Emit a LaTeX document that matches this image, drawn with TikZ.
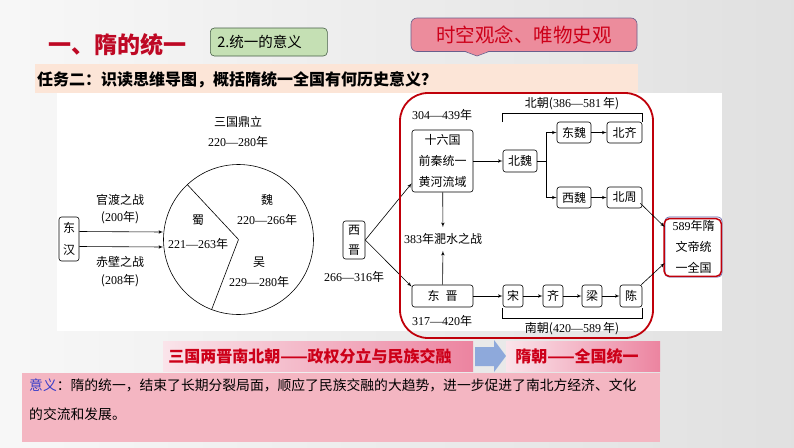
\documentclass[tikz,border=0pt]{standalone}
\usepackage{fontspec}
\setmainfont{Liberation Serif}
\newfontfamily\cjk{Noto Sans CJK SC}
\usetikzlibrary{arrows}
\usetikzlibrary{positioning}
\usetikzlibrary{calc}
\definecolor{titlered}{RGB}{190,8,36}
\definecolor{topicgreen}{RGB}{197,224,180}
\definecolor{topicedge}{RGB}{70,95,70}
\definecolor{calloutpink}{RGB}{236,140,156}
\definecolor{calloutedge}{RGB}{105,95,140}
\definecolor{calloutred}{RGB}{205,0,25}
\definecolor{taskpeach}{RGB}{252,229,215}
\definecolor{framered}{RGB}{192,0,10}
\definecolor{bannerpink}{RGB}{236,132,160}
\definecolor{bannerlight}{RGB}{250,228,234}
\definecolor{arrowblue}{RGB}{142,169,219}
\definecolor{meaningpink}{RGB}{244,182,194}
\definecolor{meaningblue}{RGB}{55,60,200}
\tikzstyle{line} = [draw, -latex']
\newcommand{\yr}[1]{{\rmfamily #1}年}

\begin{document}
\begin{tikzpicture}[x=1pt,y=-1pt,
        box/.style={draw, rounded corners=2.5pt, inner sep=0pt, line width=0.6pt,
            font=\cjk\fontsize{12}{21}\selectfont, align=center},
        lab/.style={font=\cjk\fontsize{12}{14}\selectfont, inner sep=1pt},
        conn/.style={line, line width=0.6pt},
        banner/.style={font=\cjk\bfseries\fontsize{16}{16}\selectfont, text=calloutred}]
    \useasboundingbox (0,0) rectangle (794,447);
    %% Background
    \shade[left color=white!97!black, right color=white!88!black] (0,0) rectangle (794,447);
    \fill[white] (57,93) rectangle (722,331);
    %% Header
    \node [font=\cjk\bfseries\fontsize{23}{23}\selectfont, text=titlered] (title) at (117,45) {一、隋的统一};
    \node [draw=topicedge, fill=topicgreen, rounded corners=4pt, line width=0.6pt, anchor=west,
        minimum height=28, text width=103, inner xsep=7, align=left,
        font=\cjk\fontsize{14.5}{15}\selectfont] (topic) at (210,42) {2.统一的意义};
    \draw [draw=calloutedge, fill=calloutpink, rounded corners=6pt, line width=0.6pt] (411,18) rectangle (637,51.5);
    \fill [calloutpink] (465,51) -- (477,56) -- (489,51) -- cycle;
    \draw [calloutedge, line width=0.6pt] (465,51.5) -- (477,56) -- (489,51.5);
    \node [font=\cjk\fontsize{19.5}{20}\selectfont, text=calloutred] (literacy) at (524,35) {时空观念、唯物史观};
    \fill [taskpeach] (35,64) rectangle (638,93);
    \node [anchor=west, inner sep=0pt, font=\cjk\bfseries\fontsize{16}{16}\selectfont] (task) at (37,80)
        {任务二：识读思维导图，概括隋统一全国有何历史意义？};
    %% Three kingdoms
    \node [box, minimum width=20, minimum height=44, font=\cjk\fontsize{12}{22}\selectfont] at (69,239) (dh) {东\\汉};
    \node [draw, circle, line width=0.6pt, minimum size=150, inner sep=0pt] at (238.5,239.5) (sg) {};
    \draw [line width=0.6pt] (sg.center) -- (sg.133);
    \draw [line width=0.6pt] (sg.center) -- (sg.-111);
    \path [conn] ([yshift=7.5]dh.east) -- ([yshift=7.5]sg.west);
    \path [conn] ([yshift=-7.5]dh.east) -- ([yshift=-7.5]sg.west);
    \node [lab] at (120,200) (gd) {官渡之战};
    \node [lab] at (120,218) (gdy) {(\yr{200})};
    \node [lab] at (120,262) (cb) {赤壁之战};
    \node [lab] at (120,281) (cby) {(\yr{208})};
    \node [lab] at (238,122) (dl) {三国鼎立};
    \node [lab] at (238,142) (dly) {\yr{220—280}};
    \node [lab] at (267,200) (wei) {魏};
    \node [lab] at (267,220) (weiy) {\yr{220—266}};
    \node [lab] at (198,220) (shu) {蜀};
    \node [lab] at (198,244) (shuy) {\yr{221—263}};
    \node [lab] at (259,262) (wu) {吴};
    \node [lab] at (259,282) (wuy) {\yr{229—280}};
    %% Jin and the Northern and Southern dynasties
    \node [box, minimum width=22, minimum height=38, font=\cjk\fontsize{12}{20}\selectfont] at (354,240) (xj) {西\\晋};
    \node [lab] at (354,277) (xjy) {\yr{266—316}};
    \node [box, minimum width=61, minimum height=62] at (442.5,161) (sl) {十六国\\前秦统一\\黄河流域};
    \node [box, minimum width=61, minimum height=22] at (442.5,296) (dj) {东\enspace 晋};
    \node [lab] at (442,115) (sly) {\yr{304—439}};
    \node [lab] at (442,321) (djy) {\yr{317—420}};
    \node [lab, inner ysep=6pt] at (443,239) (fs) {{\rmfamily 383}年淝水之战};
    \path [conn] (xj.east) -- ([yshift=9]sl.south west);
    \path [conn] (xj.east) -- ([yshift=-2]dj.north west);
    \path [conn] (sl) -- (fs);
    \path [conn] (dj) -- (fs);
    \node [box, minimum width=34, minimum height=22] at (520,161) (bw) {北魏};
    \node [box, minimum width=34, minimum height=21] at (574,132.5) (dw) {东魏};
    \node [box, minimum width=35, minimum height=21] at (624.5,132.5) (bq) {北齐};
    \node [box, minimum width=34, minimum height=21] at (574,197.5) (xw) {西魏};
    \node [box, minimum width=35, minimum height=21] at (624.5,197.5) (bz) {北周};
    \path [conn] (sl) -- (bw);
    \path [conn] (bw.east) -- ++(9,0) |- (dw.west);
    \path [conn] (bw.east) -- ++(9,0) |- (xw.west);
    \path [conn] (dw) -- (bq);
    \path [conn] (xw) -- (bz);
    \draw [line width=0.6pt] (bw.west |- 0,122) -- (bw.west |- 0,113) -- (bq.east |- 0,113) -- (bq.east |- 0,122);
    \node [lab] at (572,104) (bc) {北朝({\rmfamily 386—581}\,年)};
    \node [box, minimum width=20, minimum height=22] at (513,296) (song) {宋};
    \node [box, minimum width=20, minimum height=22] at (553,296) (qi) {齐};
    \node [box, minimum width=20, minimum height=22] at (592,296) (liang) {梁};
    \node [box, minimum width=22, minimum height=22] at (631,296) (chen) {陈};
    \path [conn] (dj) -- (song);
    \path [conn] (song) -- (qi);
    \path [conn] (qi) -- (liang);
    \path [conn] (liang) -- (chen);
    \draw [line width=0.6pt] (song.west |- 0,308) -- (song.west |- 0,318) -- (chen.east |- 0,318) -- (chen.east |- 0,308);
    \node [lab] at (572,329) (nc) {南朝({\rmfamily 420—589}\,年)};
    \draw [framered, line width=1.8pt, rounded corners=28pt] (400,93) rectangle (653,338);
    %% Sui
    \node [box, draw=gray!70!blue, rounded corners=4pt, minimum width=57, minimum height=60,
        font=\cjk\fontsize{12}{21}\selectfont] at (693.5,247) (sui) {{\rmfamily 589}年隋\\文帝统\\一全国};
    \draw [framered, line width=1.5pt, rounded corners=5pt] ([xshift=-0.5,yshift=-2]sui.north west) rectangle ([xshift=-1,yshift=1]sui.south east);
    \path [conn] ([xshift=-2,yshift=5]bz.south east) -- ([yshift=20]sui.west);
    \path [conn] ([xshift=-1]chen.north east) -- ([yshift=-16]sui.west);
    %% Conclusion
    \shade [left color=bannerlight, right color=bannerpink] (163,341) rectangle (473,371);
    \node [banner] at (310,356) (split) {三国两晋南北朝——政权分立与民族交融};
    \fill [arrowblue] (475,347) -- (494,347) -- (494,340) -- (506,356) -- (494,372) -- (494,366) -- (475,366) -- cycle;
    \shade [left color=bannerlight, right color=bannerpink] (506,341) rectangle (660,371);
    \node [banner] at (577,356) (unity) {隋朝——全国统一};
    \fill [meaningpink] (22,373) rectangle (660,442);
    \node [anchor=west, inner sep=0pt, font=\cjk\fontsize{13.8}{14}\selectfont] at (29,385) (sig1)
        {\textcolor{meaningblue}{意义}：隋的统一，结束了长期分裂局面，顺应了民族交融的大趋势，进一步促进了南北方经济、文化};
    \node [anchor=west, inner sep=0pt, font=\cjk\fontsize{13.8}{14}\selectfont] at (29,414) (sig2) {的交流和发展。};
\end{tikzpicture}
\end{document}
